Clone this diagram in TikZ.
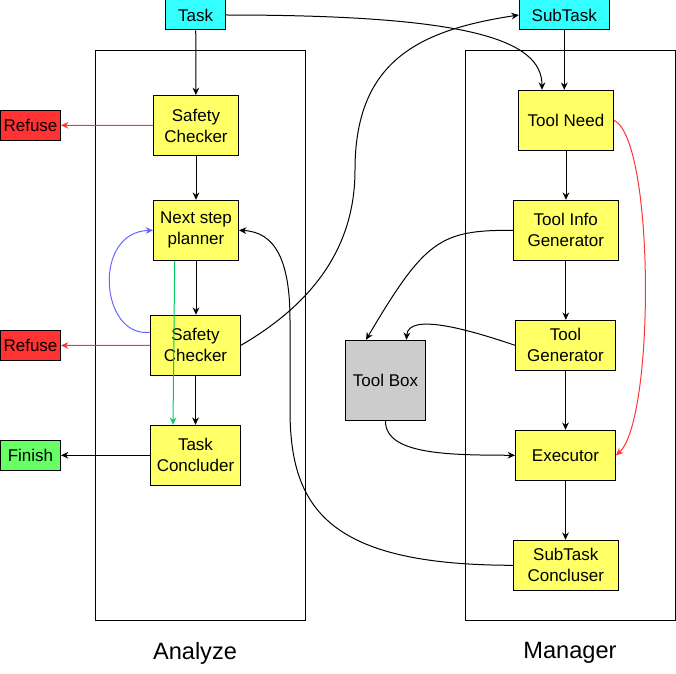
\documentclass[tikz,border=0pt]{standalone}
\usepackage{fontspec}
\setmainfont{Liberation Sans}
\usetikzlibrary{arrows.meta,calc}
\definecolor{boxyellow}{HTML}{FFFF66}
\definecolor{boxcyan}{HTML}{33FFFF}
\definecolor{boxred}{HTML}{FF3333}
\definecolor{boxgreen}{HTML}{66FF66}
\definecolor{boxgray}{HTML}{CCCCCC}
\definecolor{linered}{HTML}{FF3333}
\definecolor{lineblue}{HTML}{6666FF}
\definecolor{linegreen}{HTML}{00CC66}
\begin{document}
\begin{tikzpicture}[x=0.75pt, y=-0.75pt, line width=0.75pt,
  every node/.style={font=\fontsize{12.75}{15.75}\selectfont, align=center, inner sep=0pt},
  stage/.style={draw, fill=boxyellow, minimum height=45pt},
  io/.style={draw, minimum width=45pt, minimum height=22.5pt},
  arr/.style={-{Stealth[length=5.5pt, width=5pt, inset=1.8pt]}},
  title/.style={font=\fontsize{17.7}{21}\selectfont}]
\useasboundingbox (0,0) rectangle (676,674);

% the two containers
\draw (95.7,50.7) rectangle (305.7,620.3);
\draw (465.3,50.7) rectangle (675.3,620.3);
\node[title] (analyze) at (195,653) {Analyze};
\node[title] (manager) at (570,653) {Manager};

% inputs and outputs
\node[io, fill=boxcyan] (task) at (195.7,15) {Task};
\node[io, fill=boxcyan, minimum width=67.5pt] (subtask) at (564.3,15) {SubTask};
\node[io, fill=boxred] (ref1) at (30.5,125.3) {Refuse};
\node[io, fill=boxred] (ref2) at (30.5,345.5) {Refuse};
\node[io, fill=boxgreen] (fin) at (30.5,455.3) {Finish};

% analyze side
\node[stage, minimum width=63.75pt] (sc1) at (196,125.5) {Safety\\Checker};
\node[stage, minimum width=63.75pt] (nsp) at (196,230.3) {Next step\\planner};
\node[stage, minimum width=67.5pt] (sc2) at (195.5,345.3) {Safety\\Checker};
\node[stage, minimum width=67.5pt] (tcon) at (195.5,455.3) {Task\\Concluder};

% manager side
\node[stage, minimum width=71.25pt] (tn) at (566,120.3) {Tool Need};
\node[stage, minimum width=78.75pt] (tig) at (565.8,230.3) {Tool Info\\Generator};
\node[stage, minimum width=75pt, minimum height=37.5pt] (tg) at (565.5,345.3) {Tool\\Generator};
\node[stage, minimum width=75pt, minimum height=37.5pt] (ex) at (565.5,455.3) {Executor};
\node[stage, minimum width=78.75pt, minimum height=37.5pt] (scon) at (565.8,565.3) {SubTask\\Concluser};
\node[draw, fill=boxgray, minimum width=60pt, minimum height=60pt] (tb) at (385.5,380.3) {Tool Box};

% analyze flow
\draw[arr] (task) -- (sc1);
\draw[arr] (sc1) -- (nsp);
\draw[arr] (nsp.south) -- (nsp.south |- sc2.north);
\draw[arr] (sc2) -- (tcon);
\draw[arr, linered] (sc1.west) -- (ref1.east);
\draw[arr, linered] (sc2.west) -- (ref2.east);
\draw[arr] (tcon.west) -- (fin.east);
\draw[arr, linegreen] ($(nsp.south)+(-21.3,0)$) -- ($(tcon.north)+(-22.5,0)$);
\draw[arr, lineblue] ($(sc2.west)+(0,-13)$) .. controls (100,338) and (92,232) .. (nsp.west);

% across
\draw[arr] (task.east) .. controls (470,15) and (542,40) .. ($(tn.north)+(-24,0)$);
\draw[arr] (sc2.east) .. controls (310,305) and (355,250) .. (355,170)
  .. controls (355,60) and (420,30) .. (subtask.west);
\draw[arr] (scon.west) .. controls (330,565) and (290,510) .. (290,410)
  -- (290,320) .. controls (290,260) and (275,232) .. (nsp.east);

% manager flow
\draw[arr] (subtask.south) -- (subtask.south |- tn.north);
\draw[arr] (tn) -- (tn |- tig.north);
\draw[arr] (tig) -- (tig |- tg.north);
\draw[arr] (tg) -- (ex);
\draw[arr] (ex) -- (ex |- scon.north);
\draw[arr, linered] (tn.east) .. controls (655,140) and (655,420) .. (ex.east);
\draw[arr] (tig.west) .. controls (440,230) and (425,240) .. ($(tb.north)+(-19.5,0)$);
\draw[arr] (tg.west) .. controls (470,330) and (408,312) .. ($(tb.north)+(21,0)$);
\draw[arr] (tb.south) .. controls (385,455) and (450,455) .. (ex.west);
\end{tikzpicture}
\end{document}
